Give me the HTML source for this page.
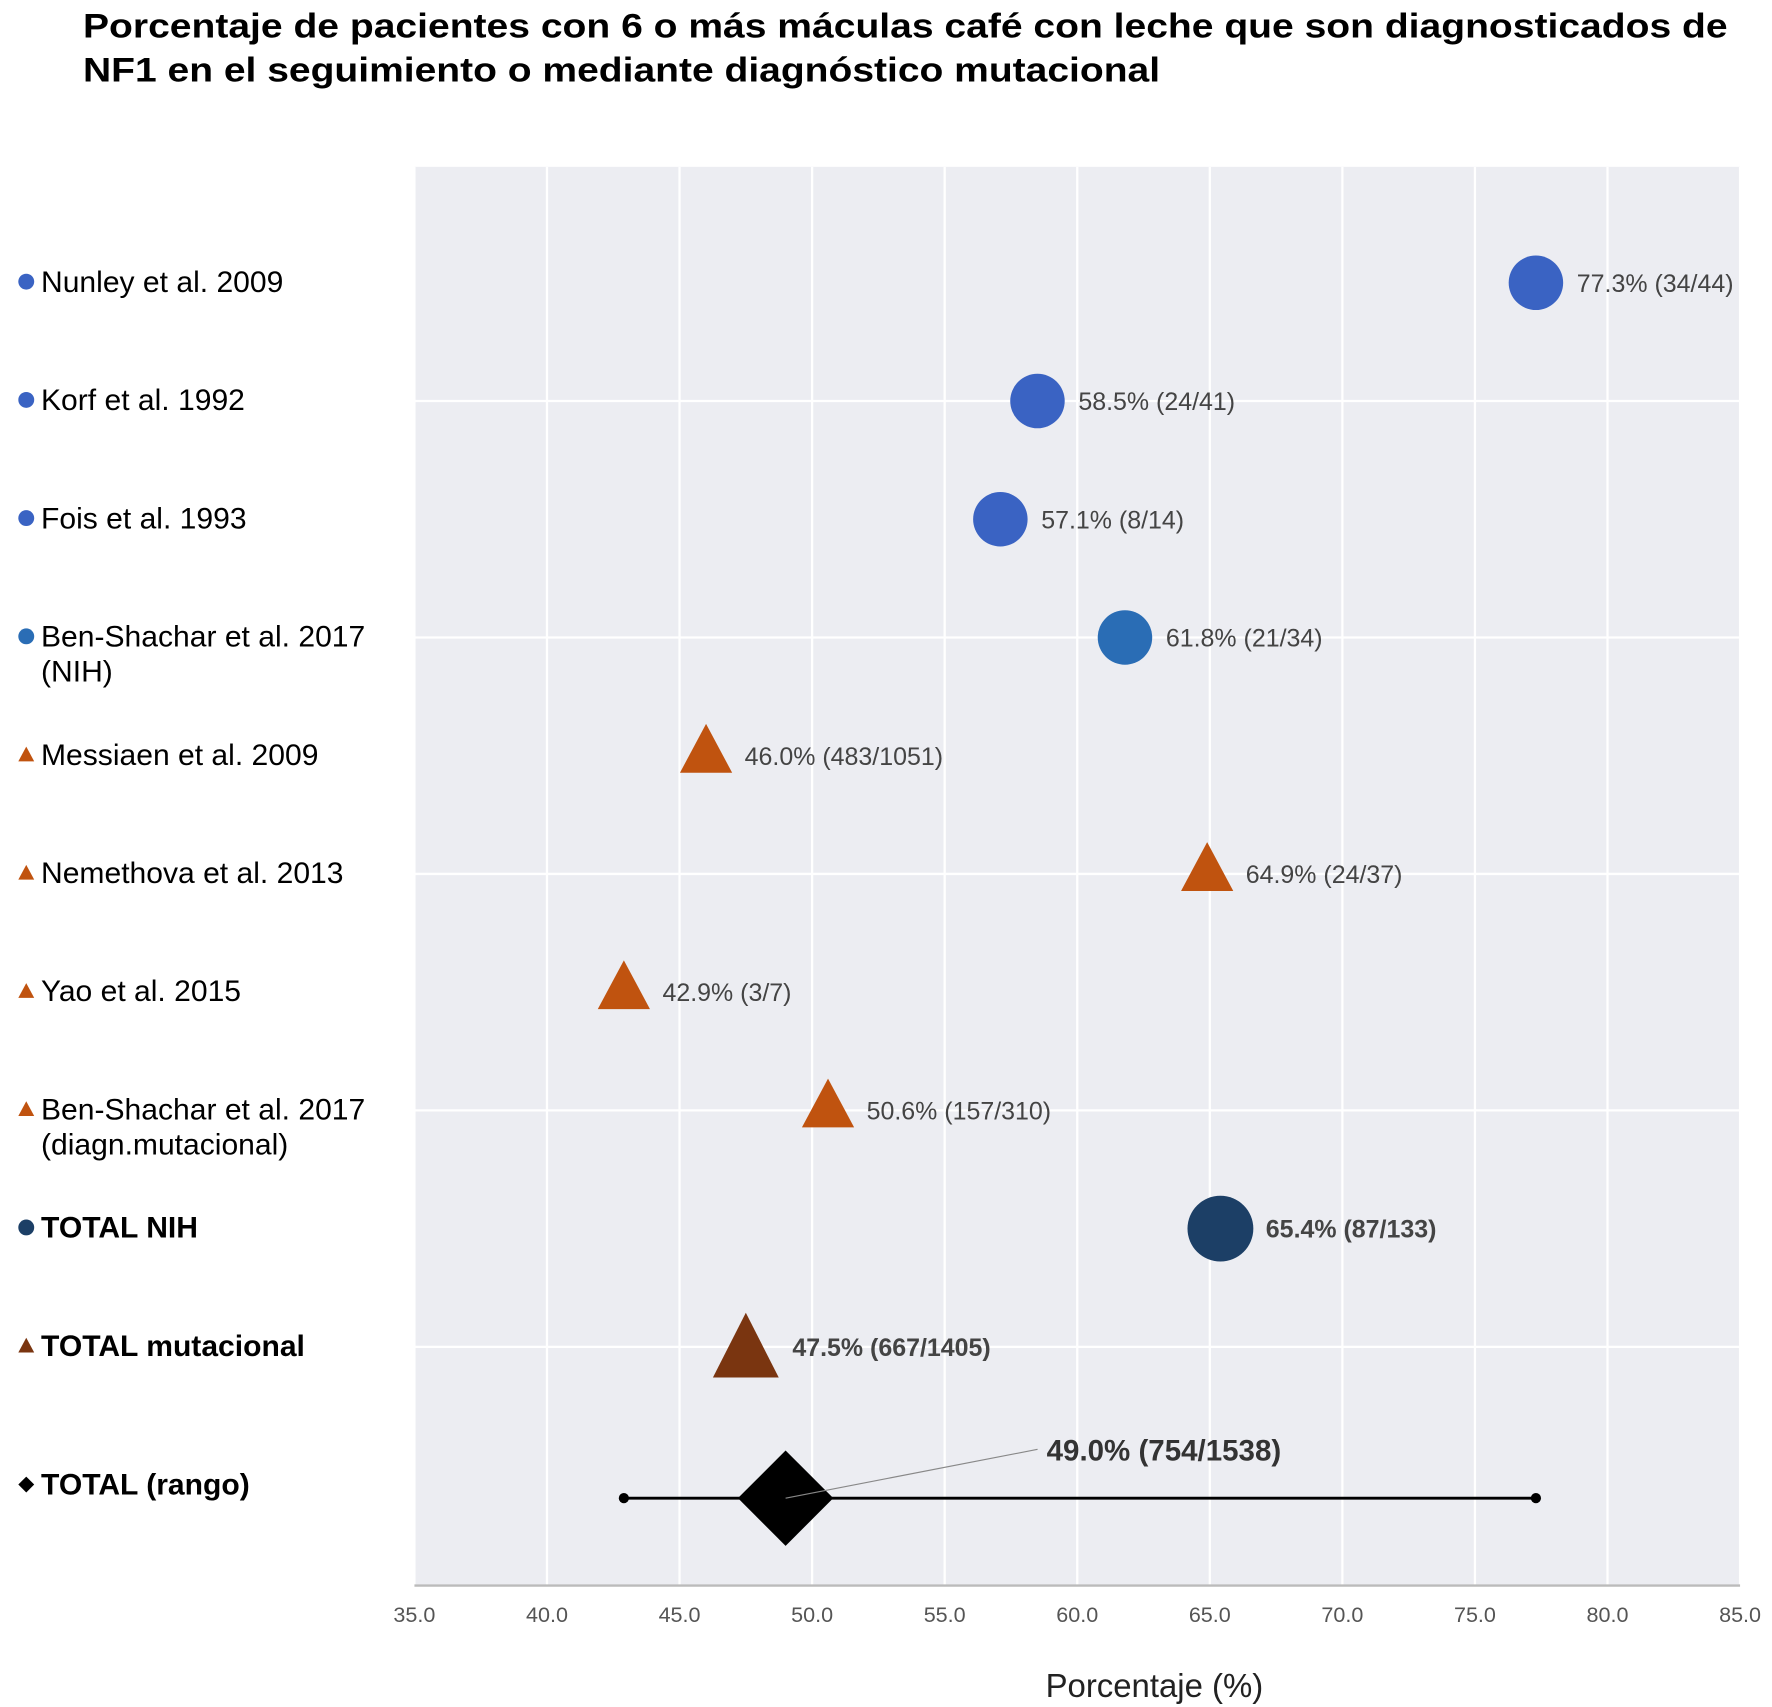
<!DOCTYPE html>
<html><head><meta charset="utf-8"><style>
html,body{margin:0;padding:0;background:#fff;}
svg{display:block;font-family:"Liberation Sans",Arial,sans-serif;}
</style></head><body>
<svg id="chart" width="1772" height="1707" viewBox="0 0 1561 1504">
<g font-weight="bold" font-size="30" fill="#000">
<text x="73" y="33" textLength="1449" lengthAdjust="spacingAndGlyphs">Porcentaje de pacientes con 6 o más máculas café con leche que son diagnosticados de</text>
<text x="73" y="72" textLength="949" lengthAdjust="spacingAndGlyphs">NF1 en el seguimiento o mediante diagnóstico mutacional</text>
</g>
<rect x="365" y="147" width="1168" height="1250" fill="#ecedf2"/>
<g id="grid"></g>
<g id="marks"></g>
<g id="labels"></g>
<text x="1017" y="1495" font-size="29" text-anchor="middle" fill="#222">Porcentaje (%)</text>
</svg>
<script>
const categories=["Nunley et al. 2009","Korf et al. 1992","Fois et al. 1993","Ben-Shachar et al. 2017|(NIH)","Messiaen et al. 2009","Nemethova et al. 2013","Yao et al. 2015","Ben-Shachar et al. 2017|(diagn.mutacional)","TOTAL NIH","TOTAL mutacional","TOTAL (rango)"];
const values=[77.3,58.5,57.1,61.8,46.0,64.9,42.9,50.6,65.4,47.5,49.0];
const valueLabels=["77.3% (34/44)","58.5% (24/41)","57.1% (8/14)","61.8% (21/34)","46.0% (483/1051)","64.9% (24/37)","42.9% (3/7)","50.6% (157/310)","65.4% (87/133)","47.5% (667/1405)","49.0% (754/1538)"];
const kinds=["c","c","c","c","t","t","t","t","C","T","D"];
const rangeMin=42.9, rangeMax=77.3;
const xTicks=[35,40,45,50,55,60,65,70,75,80,85];
const NS="http://www.w3.org/2000/svg";
const X0=365,X1=1533,XMIN=35,XMAX=85;
const x=v=>X0+(v-XMIN)/(XMAX-XMIN)*(X1-X0);
const y=i=>147+1250/12*(i+1)-2;
function mk(tag,attrs,parent){const e=document.createElementNS(NS,tag);for(const k in attrs)e.setAttribute(k,attrs[k]);document.getElementById(parent).appendChild(e);return e;}
const colors={c:"#3a63c3",t:"#c0530f",C:"#1c3f66",T:"#7a3510",D:"#000"};
xTicks.forEach(t=>{
  const l=mk("line",{x1:x(t),x2:x(t),y1:147,y2:1397,stroke:"#fff","stroke-width":2},"grid");
  
  
  const tl=mk("text",{x:x(t),y:1429,"font-size":19,fill:"#555","text-anchor":"middle"},"grid");
  tl.textContent=t.toFixed(1);
  
  
});
for(let i=1;i<categories.length;i+=2){
  const l=mk("line",{x1:X0,x2:X1,y1:y(i),y2:y(i),stroke:"#fff","stroke-width":2},"grid");
  
  
}
const ax=mk("line",{x1:X0,x2:X1,y1:1397,y2:1397,stroke:"#bbb","stroke-width":2},"grid");


categories.forEach((c,i)=>{
  const k=kinds[i];let cy=y(i);const cx=x(values[i]);
  const col=(i===3)?"#2a6db5":colors[k];
  let m,off,bold=(k==="C"||k==="T");
  if(k==="c"){m=mk("circle",{cx:cx,cy:cy,r:24,fill:col},"marks");off=36;}
  else if(k==="C"){m=mk("circle",{cx:cx,cy:cy,r:29,fill:col},"marks");off=40;}
  else if(k==="t"){cy=y(i)-3;m=mk("polygon",{points:`${cx},${cy-25} ${cx-23},${cy+18} ${cx+23},${cy+18}`,fill:col},"marks");off=34;}
  else if(k==="T"){m=mk("polygon",{points:`${cx},${cy-30} ${cx-29},${cy+27} ${cx+29},${cy+27}`,fill:col},"marks");off=41;}
  else {
    cy=1320;
    const r=mk("line",{x1:x(rangeMin),x2:x(rangeMax),y1:cy,y2:cy,stroke:"#000","stroke-width":2.5},"marks");
    
    
    [rangeMin,rangeMax].forEach(v=>{const d=mk("circle",{cx:x(v),cy:cy,r:4.5,fill:"#000"},"marks");
      
      });
    m=mk("polygon",{points:`${cx},${cy-42} ${cx+42},${cy} ${cx},${cy+42} ${cx-42},${cy}`,fill:"#000"},"marks");
    const ll=mk("line",{x1:cx,y1:cy,x2:cx+222,y2:cy-43,stroke:"#888","stroke-width":1},"marks");
    
    
  }
  
  
  let t;
  if(k==="D"){t=mk("text",{x:cx+230,y:1287,"font-size":26,"font-weight":"bold",fill:"#333"},"labels");}
  else t=mk("text",{x:cx+off,y:y(i)+8,"font-size":22,fill:"#444","font-weight":bold?"bold":"normal"},"labels");
  t.textContent=valueLabels[i];
  
  
  const ly=(k==="D")?1308:y(i)-1;
  const parts=c.split("|");
  const lb=(k==="C"||k==="T"||k==="D");
  const g=mk("text",{x:36,y:ly+9,"font-size":26.5,fill:"#000","font-weight":lb?"bold":"normal"},"labels");
  
  
  parts.forEach((p,j)=>{const ts=document.createElementNS(NS,"tspan");ts.setAttribute("x",36);if(j>0)ts.setAttribute("dy",31);ts.textContent=p;g.appendChild(ts);});
  let ic;const ix=23,iy=ly;
  if(k==="c"||k==="C")ic=mk("circle",{cx:ix,cy:iy,r:7,fill:col},"labels");
  else if(k==="t"||k==="T")ic=mk("polygon",{points:`${ix},${iy-7} ${ix-7},${iy+6} ${ix+7},${iy+6}`,fill:col},"labels");
  else ic=mk("polygon",{points:`${ix},${iy-7} ${ix+7},${iy} ${ix},${iy+7} ${ix-7},${iy}`,fill:"#000"},"labels");
  
  
});
</script>
</body></html>
